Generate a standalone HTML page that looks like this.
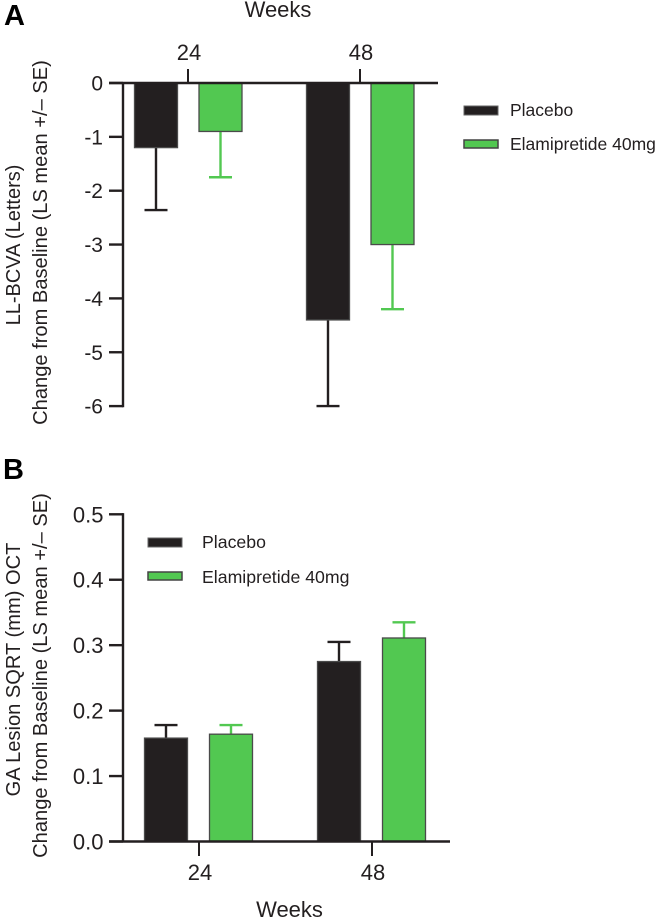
<!DOCTYPE html>
<html>
<head>
<meta charset="utf-8">
<style>
html,body{margin:0;padding:0;background:#fff;}
svg{display:block;}
text{font-family:"Liberation Sans",sans-serif;fill:#231f20;}
</style>
</head>
<body>
<svg id="fig" width="657" height="921" viewBox="0 0 657 921" xmlns="http://www.w3.org/2000/svg">
  <text x="4" y="25" font-size="29" font-weight="bold" style="fill:#000">A</text>
  <text x="3" y="479" font-size="29" font-weight="bold" style="fill:#000">B</text>
  <text x="278" y="17" font-size="22" text-anchor="middle">Weeks</text>
  <text x="289.5" y="917" font-size="22" text-anchor="middle">Weeks</text>
  <text transform="translate(20,245) rotate(-90)" font-size="20" text-anchor="middle">LL-BCVA (Letters)</text>
  <text transform="translate(47,242.5) rotate(-90)" font-size="20.1" text-anchor="middle">Change from Baseline (LS mean +/– SE)</text>
  <text transform="translate(20,669.5) rotate(-90)" font-size="20.1" text-anchor="middle">GA Lesion SQRT (mm) OCT</text>
  <text transform="translate(47,675.5) rotate(-90)" font-size="20.1" text-anchor="middle">Change from Baseline (LS mean +/– SE)</text>

  <g>
    <rect x="464" y="106" width="34" height="9" fill="#231f20" stroke="#666" stroke-width="1"/>
    <text x="510" y="116" font-size="17.5">Placebo</text>
    <rect x="464" y="140" width="34" height="8" fill="#52c851" stroke="#444" stroke-width="1.5"/>
    <text x="510" y="150" font-size="17.5">Elamipretide 40mg</text>
  </g>
  <g>
    <rect x="148" y="538" width="34" height="9" fill="#231f20" stroke="#666" stroke-width="1"/>
    <text x="202" y="548" font-size="17.7">Placebo</text>
    <rect x="148" y="572" width="34" height="8" fill="#52c851" stroke="#444" stroke-width="1.5"/>
    <text x="202" y="583" font-size="17.7">Elamipretide 40mg</text>
  </g>
  <g id="panelA"></g>
  <g id="panelB"></g>
</svg>
<script>
const weeks = ['24', '48'];
const seriesNames = ['placebo', 'elamipretide'];

const aTicks = [0, -1, -2, -3, -4, -5, -6];
const aPlacebo = [-1.2, -4.4];
const aPlaceboErr = [-2.36, -6.0];
const aElamipretide = [-0.9, -3.0];
const aElamipretideErr = [-1.75, -4.2];

const bTicks = [0, 0.1, 0.2, 0.3, 0.4, 0.5];
const bTickLabels = ['0.0', '0.1', '0.2', '0.3', '0.4', '0.5'];
const bPlacebo = [0.158, 0.275];
const bPlaceboErr = [0.178, 0.305];
const bElamipretide = [0.164, 0.311];
const bElamipretideErr = [0.178, 0.335];

const NS = 'http://www.w3.org/2000/svg';
const BLACK = '#231f20';
const GREEN = '#52c851';

function mk(parent, tag, attrs, text) {
  const el = document.createElementNS(NS, tag);
  for (const k in attrs) el.setAttribute(k, attrs[k]);
  if (text !== undefined) el.textContent = text;
  parent.appendChild(el);
  return el;
}

function drawBar(g, cx, y0, yVal, yErr, fill, stroke, errColor, name) {
  const hw = 21.5;
  const stem = mk(g, 'line', {x1: cx, x2: cx, y1: yVal, y2: yErr, stroke: errColor, 'stroke-width': 2.4});
  
  
  const cap = mk(g, 'line', {x1: cx - 11.5, x2: cx + 11.5, y1: yErr, y2: yErr, stroke: errColor, 'stroke-width': 2.4});
  
  
  const bar = mk(g, 'rect', {x: cx - hw, y: Math.min(y0, yVal), width: hw * 2, height: Math.abs(yVal - y0), fill: fill, stroke: stroke, 'stroke-width': 1.3});
  
  
}

/* Panel A: axis runs along the top, bars hang down */
const gA = document.getElementById('panelA');
const ayOf = v => 83 + (0 - v) * 53.85;
const axCat = i => 188 + i * 172;
[aPlacebo, aElamipretide].forEach((vals, s) => {
  const errs = s === 0 ? aPlaceboErr : aElamipretideErr;
  vals.forEach((v, i) => {
    const cx = axCat(i) + (s === 0 ? -32 : 32.5);
    drawBar(gA, cx, ayOf(0), ayOf(v), ayOf(errs[i]),
      s === 0 ? BLACK : GREEN, '#4a4a4a', s === 0 ? BLACK : GREEN,
      'a-week' + weeks[i] + '-' + seriesNames[s]);
  });
});
const aYAxis = mk(gA, 'line', {x1: 123, x2: 123, y1: ayOf(0), y2: ayOf(-6) + 1.2, stroke: BLACK, 'stroke-width': 2.4});


const aXAxis = mk(gA, 'line', {x1: 109, x2: 438, y1: 83, y2: 83, stroke: BLACK, 'stroke-width': 2.4});


aTicks.forEach(t => {
  const y = ayOf(t);
  const tick = mk(gA, 'line', {x1: 109, x2: 123, y1: y, y2: y, stroke: BLACK, 'stroke-width': 2.4});
  
  
  const label = mk(gA, 'text', {x: 103, y: y + 7.5, 'font-size': 21, 'text-anchor': 'end'}, String(t));
  
  
});
weeks.forEach((w, i) => {
  const x = axCat(i);
  const tick = mk(gA, 'line', {x1: x, x2: x, y1: 69, y2: 83, stroke: BLACK, 'stroke-width': 2});
  
  
  const label = mk(gA, 'text', {x: x + 1, y: 60, 'font-size': 22, 'text-anchor': 'middle'}, w);
  
  
});

/* Panel B: conventional bottom axis */
const gB = document.getElementById('panelB');
const byOf = v => 841.5 - v * 654.4;
const bxCat = i => 199 + i * 173;
[bPlacebo, bElamipretide].forEach((vals, s) => {
  const errs = s === 0 ? bPlaceboErr : bElamipretideErr;
  vals.forEach((v, i) => {
    const cx = bxCat(i) + (s === 0 ? -33 : 32);
    drawBar(gB, cx, byOf(0), byOf(v), byOf(errs[i]),
      s === 0 ? BLACK : GREEN, '#4a4a4a', s === 0 ? BLACK : GREEN,
      'b-week' + weeks[i] + '-' + seriesNames[s]);
  });
});
const bYAxis = mk(gB, 'line', {x1: 123, x2: 123, y1: byOf(0.5) - 1.2, y2: byOf(0), stroke: BLACK, 'stroke-width': 2.4});


const bXAxis = mk(gB, 'line', {x1: 109, x2: 450, y1: 841.5, y2: 841.5, stroke: BLACK, 'stroke-width': 2.4});


bTicks.forEach((t, i) => {
  const y = byOf(t);
  const tick = mk(gB, 'line', {x1: 109, x2: 123, y1: y, y2: y, stroke: BLACK, 'stroke-width': 2.4});
  
  
  const label = mk(gB, 'text', {x: 103.5, y: y + 8, 'font-size': 22, 'text-anchor': 'end'}, bTickLabels[i]);
  
  
});
weeks.forEach((w, i) => {
  const x = bxCat(i);
  const tick = mk(gB, 'line', {x1: x, x2: x, y1: 841.5, y2: 856, stroke: BLACK, 'stroke-width': 2});
  
  
  const label = mk(gB, 'text', {x: x + 1, y: 880, 'font-size': 22, 'text-anchor': 'middle'}, w);
  
  
});
</script>
</body>
</html>
